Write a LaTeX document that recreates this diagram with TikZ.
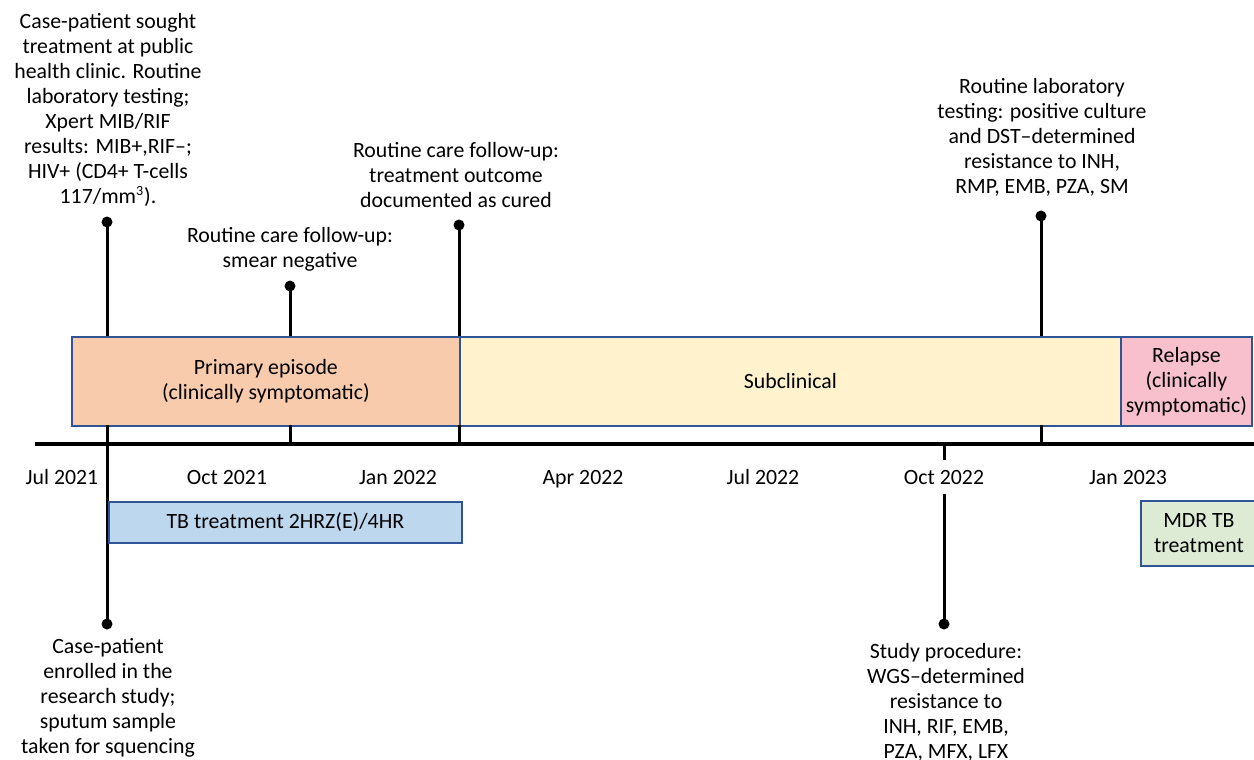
\documentclass[tikz,border=0pt]{standalone}
\usepackage{fontspec}
\setmainfont{Carlito}
\definecolor{bord}{HTML}{2F5597}
\definecolor{peach}{HTML}{F8CBAD}
\definecolor{cream}{HTML}{FFF2CC}
\definecolor{pinkb}{HTML}{F8BFCC}
\definecolor{blueb}{HTML}{BDD7EE}
\definecolor{greenb}{HTML}{DDEBD5}
\begin{document}
\begin{tikzpicture}[x=0.5pt,y=-0.5pt,
  txt/.style={align=center,inner sep=0pt,font=\fontsize{10.9pt}{12.5pt}\selectfont},
  mon/.style={txt,anchor=base},
  phase/.style={draw=bord,line width=0.9pt,inner sep=0pt,anchor=north west},
  stem/.style={line width=1.5pt},
  dotn/.style={circle,fill=black,inner sep=0pt,minimum size=5.5pt},
  axisl/.style={line width=1.6pt}]
\useasboundingbox (0,0) rectangle (1254,760);
% axis coordinates
\coordinate (ax0) at (35,444);
\coordinate (ax1) at (1254,444);
\coordinate (a107) at (107,444);
\coordinate (a290) at (290,444);
\coordinate (a459) at (459,444);
\coordinate (a1041) at (1041,444);
\coordinate (a944) at (944,444);
% dots
\node[dotn] (d1) at (107,222) {};
\node[dotn] (d1b) at (107,624) {};
\node[dotn] (d2) at (290,286) {};
\node[dotn] (d3) at (459,225) {};
\node[dotn] (d4) at (1041,216) {};
\node[dotn] (d5) at (944,624) {};
% month labels
\node[mon] (m1) at (62,484) {Jul 2021};
\node[mon] (m2) at (227,484) {Oct 2021};
\node[mon] (m3) at (398,484) {Jan 2022};
\node[mon] (m4) at (583,484) {Apr 2022};
\node[mon] (m5) at (763,484) {Jul 2022};
\node[mon,inner ysep=4.5pt] (m6) at (944,484) {Oct 2022};
\node[mon] (m7) at (1128,484) {Jan 2023};
% stems
\draw[stem] (d1.center) -- (d1b.center);
\draw[stem] (d2.center) -- (a290);
\draw[stem] (d3.center) -- (a459);
\draw[stem] (d4.center) -- (a1041);
\draw[stem] (a944) -- (m6);
\draw[stem] (m6) -- (d5.center);
% phase boxes
\node[phase,fill=peach,minimum width=388*0.5pt,minimum height=89*0.5pt] (prim) at (71,336) {};
\node[phase,fill=cream,minimum width=661*0.5pt,minimum height=89*0.5pt] (sub) at (459,336) {};
\node[phase,fill=pinkb,minimum width=131*0.5pt,minimum height=89*0.5pt] (rel) at (1120,336) {};
\node[phase,fill=blueb,minimum width=353*0.5pt,minimum height=41*0.5pt] (tbt) at (108,501) {};
\node[phase,fill=greenb,minimum width=116*0.5pt,minimum height=65*0.5pt] (mdr) at (1140,500) {};
\node[txt] at (prim.center) {Primary episode\\(clinically symptomatic)};
\node[txt] at (sub.center) {Subclinical};
\node[txt] at (rel.center) {Relapse\\(clinically\\symptomatic)};
\node[txt] at (tbt.center) {TB treatment 2HRZ(E)/4HR};
\node[txt] at (mdr.center) {MDR TB\\treatment};
% axis
\draw[axisl] (ax0) -- (ax1);
\draw[stem] (107,425) -- (a107);
\draw[stem] (290,425) -- (a290);
\draw[stem] (459,425) -- (a459);
\draw[stem] (1041,425) -- (a1041);
% annotations
\node[txt] (t1) at (108,109.5) {Case-patient sought\\treatment at public\\health clinic. Routine\\laboratory testing;\\Xpert MIB/RIF\\results: MIB+,RIF--;\\HIV+ (CD4+ T-cells\\117/mm\textsuperscript{\fontsize{7pt}{7pt}\selectfont 3}).};
\node[txt] (t2) at (290,249.5) {Routine care follow-up:\\smear negative};
\node[txt] (t3) at (456,175) {Routine care follow-up:\\treatment outcome\\documented as cured};
\node[txt] (t4) at (1042,137) {Routine laboratory\\testing: positive culture\\and DST--determined\\resistance to INH,\\RMP, EMB, PZA, SM};
\node[txt] (t5) at (108,698) {Case-patient\\enrolled in the\\research study;\\sputum sample\\taken for squencing};
\node[txt] (t6) at (946,702) {Study procedure:\\WGS--determined\\resistance to\\INH, RIF, EMB,\\PZA, MFX, LFX};
\end{tikzpicture}
\end{document}
